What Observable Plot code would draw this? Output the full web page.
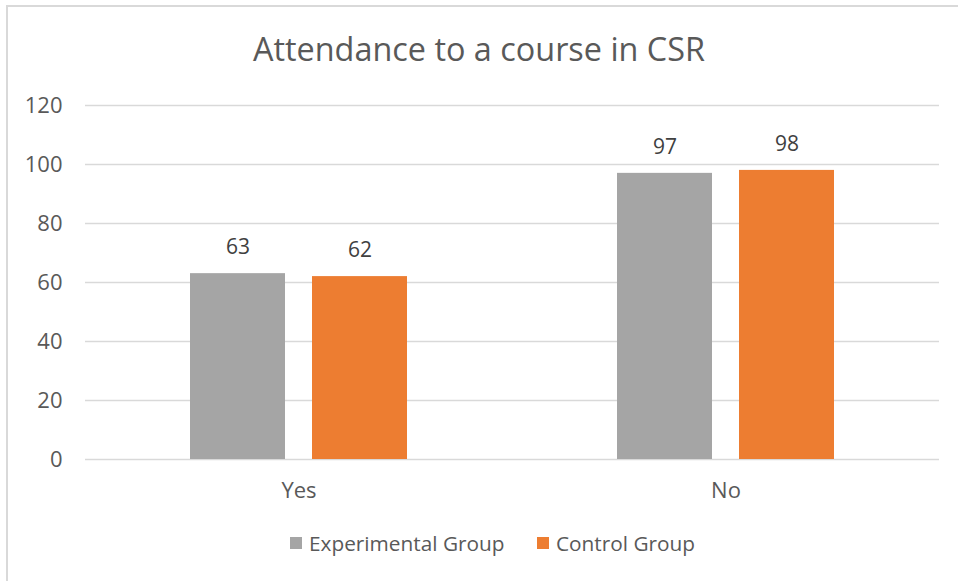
<!DOCTYPE html>
<html>
<head>
<meta charset="utf-8">
<script src="https://cdn.jsdelivr.net/npm/d3@7"></script>
<script src="https://cdn.jsdelivr.net/npm/@observablehq/plot@0.6"></script>
<style>
  html, body { margin: 0; padding: 0; background: #fff; }
  #wrap { position: relative; width: 958px; height: 581px; overflow: hidden; font-family: "Open Sans", sans-serif; }
  #frame { position: absolute; left: 6px; top: 5px; width: 960px; height: 590px; border-left: 2px solid #d9d9d9; border-top: 2px solid #d9d9d9; }
  #title { position: absolute; left: 0; width: 958px; top: 27px; text-align: center; font-size: 32.4px; line-height: 42px; color: #595959; }
  #chart { position: absolute; left: 0; top: 85px; }
  #legend { position: absolute; top: 529px; left: 0; width: 958px; height: 28px; font-size: 20.8px; color: #595959; }
  .item { position: absolute; top: 0; line-height: 28px; white-space: nowrap; }
  .sw { position: absolute; top: 8px; width: 12px; height: 12px; }
</style>
</head>
<body>
<div id="wrap">
  <div id="frame"></div>
  <div id="title">Attendance to a course in CSR</div>
  <div id="chart"></div>
  <div id="legend"></div>
</div>
<script>
const answers = ["Yes", "No"];
const groups = ["Experimental Group", "Control Group"];
const experimental = [63, 97];
const control = [62, 98];
const colors = ["#a5a5a5", "#ed7d31"];
const yTicks = [0, 20, 40, 60, 80, 100, 120];

const data = [];
answers.forEach((a, i) => {
  data.push({answer: a, group: groups[0], value: experimental[i]});
  data.push({answer: a, group: groups[1], value: control[i]});
});

const chart = Plot.plot({
  width: 958,
  height: 425,
  marginTop: 20,
  marginBottom: 51,
  marginLeft: 84,
  marginRight: 19,
  style: {fontFamily: "Open Sans, sans-serif", fontSize: "21px", color: "#595959", background: "transparent"},
  fx: {domain: answers, padding: 0},
  x: {domain: groups, paddingInner: 0.2195, paddingOuter: 0.8476},
  y: {domain: [0, 120]},
  color: {domain: groups, range: colors},
  marks: [
    Plot.ruleY(yTicks, {stroke: "#d9d9d9", strokeWidth: 1.5}),
    Plot.axisY(yTicks, {tickSize: 0, tickPadding: 23, label: null, fontSize: 22, fill: "#595959"}),
    Plot.axisFx({tickSize: 0, tickPadding: 23, label: null, fontSize: 22, fill: "#595959", anchor: "bottom"}),
    Plot.axisX({ticks: [], label: null}),
    Plot.barY(data, {fx: "answer", x: "group", y: "value", fill: "group"}),
    Plot.text(data, {fx: "answer", x: "group", y: "value", text: d => String(d.value), dy: -26, fill: "#404040", fontSize: 21})
  ]
});
document.getElementById("chart").appendChild(chart);

const legend = document.getElementById("legend");
const pos = [[290, 309], [537, 556]];
groups.forEach((g, i) => {
  const sw = document.createElement("div");
  sw.className = "sw";
  sw.style.left = pos[i][0] + "px";
  sw.style.background = colors[i];
  legend.appendChild(sw);
  const t = document.createElement("div");
  t.className = "item";
  t.style.left = pos[i][1] + "px";
  t.textContent = g;
  legend.appendChild(t);
});
</script>
</body>
</html>
